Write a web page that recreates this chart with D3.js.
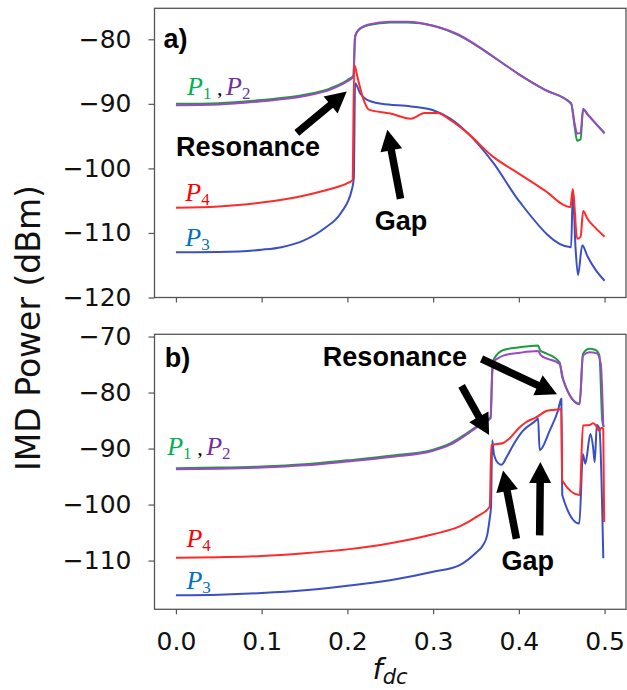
<!DOCTYPE html>
<html lang="en">
<head>
<meta charset="UTF-8">
<title>IMD Power vs f_dc</title>
<style>
  body { margin: 0; background: #fff; }
  svg { display: block; }
</style>
</head>
<body>
<div id="chart"></div>
<script src="https://d3js.org/d3.v7.min.js"></script>
<script>
const w = 627, h = 690;

const xTicks = [0, 0.1, 0.2, 0.3, 0.4, 0.5];
const yTicksA = [-80, -90, -100, -110, -120];
const yTicksB = [-70, -80, -90, -100, -110];

// panel a) values as [f_dc, dBm]
const aP1 = [[0,-90.0],[0.05,-89.9],[0.1,-89.4],[0.15,-88.6],[0.18,-87.6],[0.2,-86.3],[0.207,-85.6],[0.209,-79.5],
  [0.213,-78.6],[0.225,-77.8],[0.25,-77.4],[0.27,-77.4],[0.3,-77.9],[0.33,-79.4],[0.358,-81.6],[0.38,-83.6],
  [0.401,-85.5],[0.43,-87.8],[0.461,-89.9],[0.465,-93.5],[0.468,-95.7],[0.472,-95.5],[0.475,-90.8],[0.48,-91.6],
  [0.49,-93.1],[0.5,-94.5]];
const aP2 = [[0,-90.2],[0.05,-90.1],[0.1,-89.6],[0.15,-88.8],[0.18,-87.8],[0.2,-86.5],[0.207,-85.8],[0.209,-79.7],
  [0.213,-78.5],[0.225,-77.7],[0.25,-77.3],[0.27,-77.3],[0.3,-77.9],[0.33,-79.3],[0.358,-81.6],[0.38,-83.6],
  [0.401,-85.5],[0.43,-87.8],[0.461,-90.0],[0.465,-93.0],[0.468,-94.6],[0.472,-94.5],[0.475,-90.8],[0.48,-91.6],
  [0.49,-93.1],[0.5,-94.6]];
const aP3 = [[0,-113.0],[0.05,-112.95],[0.1,-112.6],[0.123,-112.2],[0.15,-111.1],[0.173,-109.3],[0.193,-106.8],
  [0.205,-103.4],[0.2075,-101.5],[0.209,-86.8],[0.215,-88.4],[0.222,-89.3],[0.24,-90.0],[0.274,-90.4],[0.3,-91.0],
  [0.32,-92.3],[0.34,-94.5],[0.37,-99.1],[0.401,-105.2],[0.461,-112.2],[0.463,-103.4],[0.466,-112.0],[0.469,-116.5],
  [0.474,-111.9],[0.48,-113.6],[0.49,-115.8],[0.5,-117.4]];
const aP4 = [[0,-106.1],[0.05,-105.9],[0.1,-105.3],[0.15,-104.2],[0.18,-103.2],[0.2,-102.3],[0.206,-101.8],[0.208,-84.0],
  [0.212,-86.0],[0.218,-89.0],[0.225,-90.9],[0.25,-91.5],[0.274,-92.3],[0.29,-91.4],[0.305,-91.4],[0.32,-92.5],
  [0.34,-94.5],[0.369,-98.1],[0.4,-100.8],[0.43,-103.4],[0.46,-106.0],[0.463,-103.2],[0.468,-110.9],[0.472,-110.6],
  [0.475,-106.6],[0.48,-107.8],[0.49,-109.3],[0.5,-110.6]];

// panel b) values as [f_dc, dBm]
const bP1 = [[0,-93.5],[0.05,-93.4],[0.1,-93.2],[0.15,-92.8],[0.2,-92.1],[0.25,-91.3],[0.3,-90.2],[0.32,-89.1],
  [0.338,-87.4],[0.35,-86.1],[0.36,-85.1],[0.367,-84.4],[0.369,-76.0],[0.371,-74.0],[0.382,-72.4],[0.401,-71.9],
  [0.4224,-71.6],[0.425,-72.5],[0.432,-73.0],[0.4476,-74.6],[0.4507,-77.3],[0.4709,-82.0],[0.4748,-73.1],
  [0.4825,-72.2],[0.4895,-72.4],[0.494,-73.4],[0.4973,-85.0],[0.4992,-86.2]];
const bP2 = [[0,-93.7],[0.05,-93.6],[0.1,-93.4],[0.15,-93.0],[0.2,-92.3],[0.25,-91.5],[0.3,-90.4],[0.32,-89.3],
  [0.338,-87.6],[0.35,-86.3],[0.36,-85.3],[0.367,-84.6],[0.369,-76.5],[0.37,-74.6],[0.3755,-73.9],[0.3817,-73.4],
  [0.401,-72.9],[0.4224,-72.6],[0.426,-73.4],[0.4476,-74.9],[0.452,-77.8],[0.4709,-82.1],[0.4748,-73.4],
  [0.4825,-72.8],[0.491,-73.0],[0.4956,-74.9],[0.4985,-86.0]];
const bP3 = [[0,-116.2],[0.05,-116.1],[0.1,-115.8],[0.15,-115.3],[0.2,-114.5],[0.25,-113.5],[0.3,-112.0],[0.331,-110.8],
  [0.35,-108.6],[0.358,-107.3],[0.363,-105.5],[0.366,-102.5],[0.3675,-100.5],[0.369,-88.5],[0.3708,-90.9],
  [0.3758,-92.6],[0.3797,-92.9],[0.3855,-91.6],[0.3933,-89.4],[0.4049,-86.8],[0.4205,-84.9],[0.4224,-84.6],
  [0.4243,-90.3],[0.436,-86.8],[0.4457,-83.2],[0.4496,-81.1],[0.4506,-98.3],[0.4705,-103.4],[0.4748,-91.0],
  [0.4775,-92.7],[0.4835,-87.4],[0.4865,-89.6],[0.4885,-92.4],[0.491,-85.8],[0.494,-86.5],[0.4985,-109.6]];
const bP4 = [[0,-109.5],[0.05,-109.4],[0.1,-109.2],[0.15,-108.7],[0.2,-108.0],[0.25,-106.9],[0.3,-105.3],[0.331,-103.9],
  [0.3506,-102.2],[0.366,-100.4],[0.368,-89.4],[0.3817,-89.0],[0.389,-88.2],[0.401,-86.2],[0.4083,-85.3],
  [0.4205,-84.4],[0.432,-83.3],[0.4398,-83.1],[0.4496,-83.0],[0.4506,-95.7],[0.471,-98.3],[0.4748,-85.9],
  [0.4825,-85.8],[0.4866,-85.5],[0.4895,-85.8],[0.4935,-86.8],[0.4965,-86.3],[0.4985,-86.5],[0.4995,-103.1]];

const lineColors = { P1: '#1f9a3c', P2: '#9a48c4', P3: '#3b4fc4', P4: '#ff2a2a' };
const labelColors = { P1: '#00b050', P2: '#7030a0', P3: '#0070c0', P4: '#ff0000' };

const panels = [
  {
    tag: 'a)', top: 8.3, bottom: 297.5, yDomain: [-120, -75.2], yTicks: yTicksA, showX: false,
    series: [['P1', aP1], ['P2', aP2], ['P3', aP3], ['P4', aP4]],
    tagPos: [-0.0146, -81.3],
    p12: [0.013, -88.6], p4: [0.011, -105.1], p3: [0.011, -112.0],
    notes: [['Resonance', 0.0, -98.1], ['Gap', 0.232, -109.6]],
    arrows: [[0.141, -94.5, 0.1993, -88.1], [0.262, -104.7, 0.2466, -94.0]]
  },
  {
    tag: 'b)', top: 334.3, bottom: 609.3, yDomain: [-118.7, -69.6], yTicks: yTicksB, showX: true,
    series: [['P1', bP1], ['P2', bP2], ['P3', bP3], ['P4', bP4]],
    tagPos: [-0.013, -75.5],
    p12: [-0.0102, -91.2], p4: [0.0122, -107.6], p3: [0.0122, -115.0],
    notes: [['Resonance', 0.1714, -75.3], ['Gap', 0.3797, -111.7]],
    arrows: [[0.3332, -78.8, 0.3653, -87.6], [0.3565, -74.0, 0.4445, -80.3],
             [0.3972, -106.1, 0.3816, -93.9], [0.4243, -105.5, 0.4251, -92.4]]
  }
];

const svg = d3.select('#chart').append('svg')
  .attr('width', w)
  .attr('height', h);

const x = d3.scaleLinear().domain([-0.025, 0.525]).range([154.5, 626]);

// thick block arrow from tail to tip
function arrowPath(x1, y1, x2, y2) {
  const sw = 7.5, hw = 22, hl = 21;
  const len = Math.hypot(x2 - x1, y2 - y1);
  const ux = (x2 - x1) / len, uy = (y2 - y1) / len;
  const nx = -uy, ny = ux;
  const bx = x2 - ux * hl, by = y2 - uy * hl;
  const pts = [
    [x1 + nx * sw / 2, y1 + ny * sw / 2],
    [bx + nx * sw / 2, by + ny * sw / 2],
    [bx + nx * hw / 2, by + ny * hw / 2],
    [x2, y2],
    [bx - nx * hw / 2, by - ny * hw / 2],
    [bx - nx * sw / 2, by - ny * sw / 2],
    [x1 - nx * sw / 2, y1 - ny * sw / 2]
  ];
  return 'M' + pts.map(p => p.join(',')).join('L') + 'Z';
}

// italic P with upright subscript
function pText(g, px, py, names) {
  const t = g.append('text')
    .attr('x', px).attr('y', py)
    .style('font-family', '"Liberation Serif", serif')
    .style('font-size', '26px');
  names.forEach((n, i) => {
    if (i > 0) {
      t.append('tspan').attr('x', px + 30).attr('dy', -4)
        .style('font-size', '22px').attr('fill', '#000').text(',');
    }
    t.append('tspan')
      .attr('x', i > 0 ? px + 39 : px)
      .attr('dy', 0)
      .style('font-style', 'italic')
      .attr('fill', labelColors[n])
      .text('P');
    t.append('tspan')
      .attr('dy', 4)
      .style('font-size', '17px')
      .attr('fill', labelColors[n])
      .text(n.slice(1));
  });
}

panels.forEach(p => {
  const y = d3.scaleLinear().domain(p.yDomain).range([p.bottom, p.top]);
  const g = svg.append('g');

  const yAxis = g.append('g')
    .attr('transform', `translate(${x.range()[0]},0)`)
    .call(d3.axisLeft(y).tickValues(p.yTicks).tickFormat(d3.format('.0f')).tickSize(6).tickPadding(17));
  const xAxis = g.append('g')
    .attr('transform', `translate(0,${p.bottom})`)
    .call(d3.axisBottom(x).tickValues(xTicks)
      .tickFormat(p.showX ? d3.format('.1f') : () => '')
      .tickSize(5).tickPadding(18));
  [yAxis, xAxis].forEach(a => {
    a.select('.domain').remove();
    a.selectAll('line').attr('stroke', '#555').attr('stroke-width', 1.2);
    a.selectAll('text')
      .style('font-family', '"DejaVu Sans", sans-serif')
      .style('font-size', '25px')
      .attr('fill', '#111');
  });

  const line = d3.line()
    .x(d => x(d[0]))
    .y(d => y(d[1]))
    .curve(d3.curveMonotoneX);

  g.selectAll('.curve')
    .data(p.series)
    .enter()
    .append('path')
    .attr('class', 'curve')
    .attr('d', d => line(d[1]))
    .attr('fill', 'none')
    .attr('stroke', d => lineColors[d[0]])
    .attr('stroke-width', 2)
    .attr('stroke-linejoin', 'round');

  g.append('rect')
    .attr('x', x.range()[0])
    .attr('y', p.top)
    .attr('width', x.range()[1] - x.range()[0])
    .attr('height', p.bottom - p.top)
    .attr('fill', 'none')
    .attr('stroke', '#555')
    .attr('stroke-width', 1.3);

  // labels and annotations
  const bold = sel => sel
    .style('font-family', '"Liberation Sans", Arial, sans-serif')
    .style('font-weight', 'bold')
    .style('font-size', '27px')
    .attr('fill', '#000');

  g.append('text')
    .attr('x', x(p.tagPos[0])).attr('y', y(p.tagPos[1]))
    .call(bold)
    .text(p.tag);

  g.selectAll('.note')
    .data(p.notes)
    .enter()
    .append('text')
    .attr('class', 'note')
    .attr('x', d => x(d[1]))
    .attr('y', d => y(d[2]))
    .call(bold)
    .text(d => d[0]);

  g.selectAll('.arrow')
    .data(p.arrows)
    .enter()
    .append('path')
    .attr('class', 'arrow')
    .attr('d', d => arrowPath(x(d[0]), y(d[1]), x(d[2]), y(d[3])))
    .attr('fill', '#000');

  pText(g, x(p.p12[0]), y(p.p12[1]), ['P1', 'P2']);
  pText(g, x(p.p4[0]), y(p.p4[1]), ['P4']);
  pText(g, x(p.p3[0]), y(p.p3[1]), ['P3']);
});

svg.append('text')
  .attr('transform', 'translate(40,328) rotate(-90)')
  .attr('text-anchor', 'middle')
  .style('font-family', '"DejaVu Sans", sans-serif')
  .style('font-size', '33px')
  .attr('fill', '#111')
  .text('IMD Power (dBm)');

const xl = svg.append('text')
  .attr('x', 390).attr('y', 679)
  .attr('text-anchor', 'middle')
  .style('font-family', '"DejaVu Sans", sans-serif')
  .style('font-style', 'italic')
  .attr('fill', '#111');
xl.append('tspan').style('font-size', '29px').text('f');
xl.append('tspan').attr('dy', 5).style('font-size', '21px').text('dc');
</script>
</body>
</html>
